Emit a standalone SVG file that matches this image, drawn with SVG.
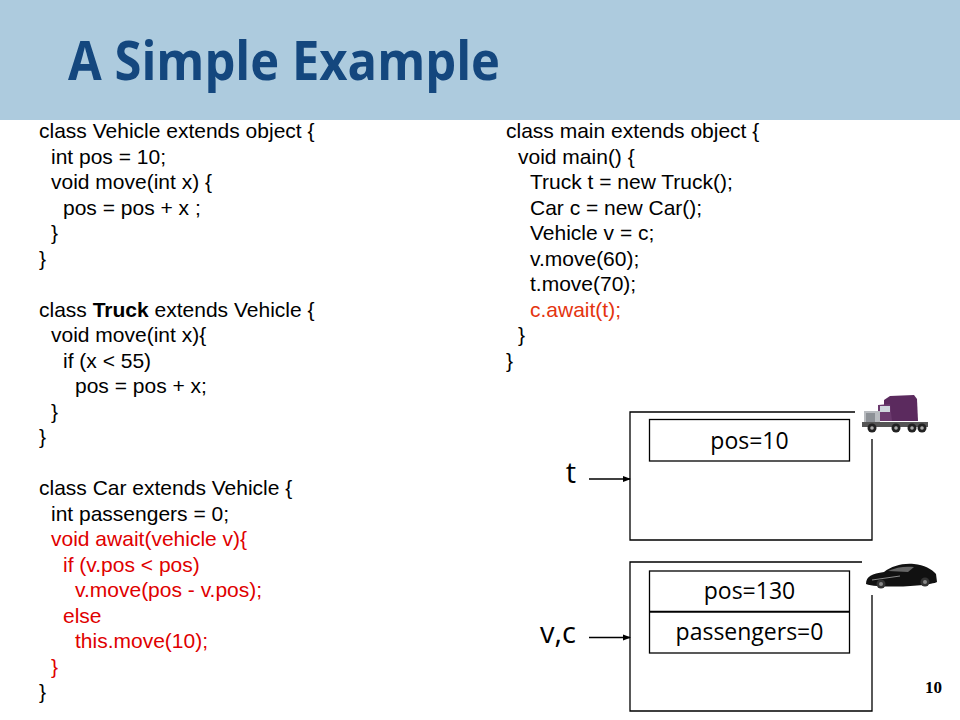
<svg xmlns="http://www.w3.org/2000/svg" width="960" height="720" viewBox="0 0 960 720">
<defs>
<style>
.code{font-family:"Liberation Sans",Arial,sans-serif;font-size:21px;fill:#000}
.red{fill:#e00000}
.ored{fill:#e4340f}
.lbl{font-family:"Open Sans","Noto Sans",sans-serif;font-size:23px;fill:#000;text-anchor:middle}
.var{font-family:"Open Sans","Noto Sans",sans-serif;font-size:29px;fill:#000;text-anchor:end}
.box{fill:none;stroke:#000;stroke-width:1.3}
.conn{stroke:#000;stroke-width:1.3;fill:none}
</style>
<marker id="ah" markerWidth="8" markerHeight="8" refX="7" refY="4" orient="auto" markerUnits="userSpaceOnUse">
<path d="M0,1 L8,4 L0,7 Z" fill="#000"/>
</marker>
</defs>
<rect width="960" height="720" fill="#fff"/>
<g id="header">
<rect x="0" y="0" width="960" height="120" fill="#adcbde"/>
<text x="68" y="80" font-family="'Open Sans','Noto Sans',sans-serif" font-weight="bold" font-size="53" fill="#14477e" textLength="432" lengthAdjust="spacingAndGlyphs">A Simple Example</text>
</g>
<g id="code-left" class="code" transform="translate(0,2)">
<text class="code" x="39" y="136">class Vehicle extends object {</text>
<text class="code" x="51" y="161.5">int pos = 10;</text>
<text class="code" x="51" y="187">void move(int x) {</text>
<text class="code" x="63" y="212.5">pos = pos + x ;</text>
<text class="code" x="51" y="238">}</text>
<text class="code" x="39" y="263.5">}</text>
<text class="code" x="39" y="314.5">class <tspan font-weight="bold">Truck</tspan> extends Vehicle {</text>
<text class="code" x="51" y="340">void move(int x){</text>
<text class="code" x="63" y="365.5">if (x &lt; 55)</text>
<text class="code" x="75" y="391">pos = pos + x;</text>
<text class="code" x="51" y="416.5">}</text>
<text class="code" x="39" y="442">}</text>
<text class="code" x="39" y="493">class Car extends Vehicle {</text>
<text class="code" x="51" y="518.5">int passengers = 0;</text>
<text class="code red" x="51" y="544">void await(vehicle v){</text>
<text class="code red" x="63" y="569.5">if (v.pos &lt; pos)</text>
<text class="code red" x="75" y="595">v.move(pos - v.pos);</text>
<text class="code red" x="63" y="620.5">else</text>
<text class="code red" x="75" y="646">this.move(10);</text>
<text class="code red" x="51" y="671.5">}</text>
<text class="code" x="39" y="697">}</text>
</g>
<g id="code-right" transform="translate(0,2)">
<text class="code" x="506" y="136">class main extends object {</text>
<text class="code" x="518" y="161.5">void main() {</text>
<text class="code" x="530" y="187">Truck t = new Truck();</text>
<text class="code" x="530" y="212.5">Car c = new Car();</text>
<text class="code" x="530" y="238">Vehicle v = c;</text>
<text class="code" x="530" y="263.5">v.move(60);</text>
<text class="code" x="530" y="289">t.move(70);</text>
<text class="code ored" x="530" y="314.5">c.await(t);</text>
<text class="code" x="518" y="340">}</text>
<text class="code" x="506" y="365.5">}</text>
</g>
<g id="truck-object">
<path class="box" d="M855,412 H630 V540 H872 V439"/>
<rect class="box" x="649.5" y="419.5" width="200" height="41.5"/>
<text class="lbl" x="749.5" y="449">pos=10</text>
</g>
<g id="car-object">
<path class="box" d="M862,562 H630 V711 H872 V595"/>
<rect class="box" x="649.5" y="571" width="200" height="82"/>
<line x1="649.5" y1="611.8" x2="849.5" y2="611.8" stroke="#000" stroke-width="2"/>
<text class="lbl" x="749.5" y="599">pos=130</text>
<text class="lbl" x="749.5" y="640">passengers=0</text>
</g>
<g id="var-t">
<text class="var" x="576" y="483">t</text>
</g>
<g id="var-vc">
<text class="var" x="576" y="643">v,c</text>
</g>
<g id="connectors">
<line class="conn" x1="589" y1="479" x2="630" y2="479" marker-end="url(#ah)"/>
<line class="conn" x1="589" y1="637.5" x2="630" y2="637.5" marker-end="url(#ah)"/>
</g>
<g id="truck-picture">
<path d="M884,400 L890,396 L914,395 L917,399 L918,421 L884,421 Z" fill="#5b2a5e"/>
<path d="M878,405 L890,404 L892,421 L878,421 Z" fill="#6b3a6e"/>
<rect x="880" y="406" width="10" height="6" fill="#cfd6dd"/>
<rect x="864" y="411" width="16" height="13" fill="#b9bcc0"/>
<rect x="866" y="413" width="9" height="9" fill="#8d9196"/>
<rect x="862" y="422" width="66" height="5" fill="#555"/>
<circle cx="872" cy="428" r="4.5" fill="#222"/><circle cx="872" cy="428" r="1.8" fill="#aaa"/>
<circle cx="896" cy="428" r="4.5" fill="#222"/><circle cx="896" cy="428" r="1.8" fill="#aaa"/>
<circle cx="912" cy="428" r="4.5" fill="#222"/><circle cx="912" cy="428" r="1.8" fill="#aaa"/>
<circle cx="922" cy="428" r="4.5" fill="#222"/><circle cx="922" cy="428" r="1.8" fill="#aaa"/>
</g>
<g id="car-picture">
<path d="M866,584 C866,576 872,574 884,572 C892,566 902,563 914,564 C924,565 932,569 936,574 L937,582 C930,586 880,589 866,584 Z" fill="#111"/>
<path d="M888,571 C896,567 906,566 914,567 L908,572 Z" fill="#666"/>
<path d="M872,580 L900,576" stroke="#888" stroke-width="1"/>
<circle cx="881" cy="584" r="4.5" fill="#333"/><circle cx="881" cy="584" r="2" fill="#888"/>
<circle cx="925" cy="582" r="4.5" fill="#333"/><circle cx="925" cy="582" r="2" fill="#888"/>
</g>
<g id="page-number">
<text x="942" y="693" text-anchor="end" font-family="'Liberation Serif','Times New Roman',serif" font-weight="bold" font-size="17" fill="#000">10</text>
</g>
</svg>
